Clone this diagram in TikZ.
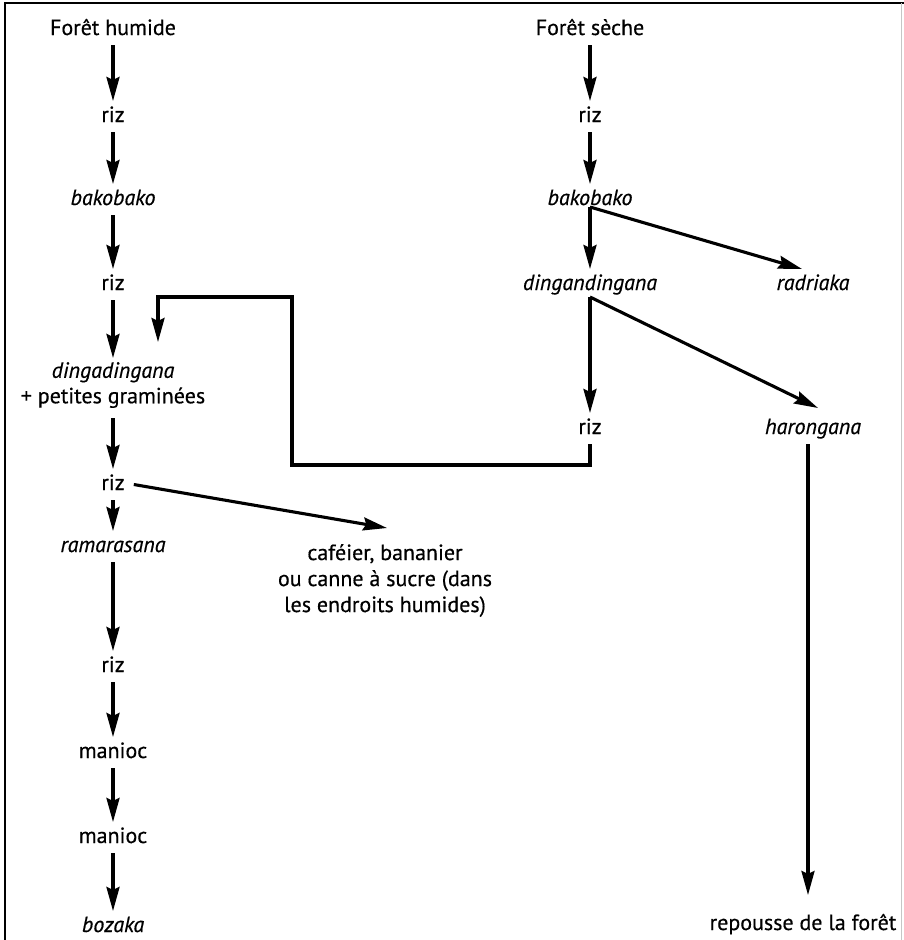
\documentclass[tikz,border=0pt]{standalone}
\usepackage{fontspec}
\setmainfont{PT Sans}[FakeBold=0.5]
\usetikzlibrary{arrows.meta,calc}
\begin{document}
\begin{tikzpicture}[x=1pt,y=-1pt,
  lbl/.style={anchor=base, inner xsep=5pt, inner ysep=0pt,
    text height=16pt, text depth=5pt, outer ysep=5pt,
    font=\fontsize{22}{26}\selectfont},
  itl/.style={lbl, font=\fontsize{22}{26}\selectfont\itshape},
  multi/.style={anchor=north, inner sep=0pt, align=center,
    font=\fontsize{22}{25.5}\selectfont},
  arr/.style={line width=3.1pt, line join=miter,
    -{Stealth[length=24pt,width=13pt,inset=3pt]}},
  rule/.style={line width=1.8pt},
]
\useasboundingbox (0,0) rectangle (904,940);

% page frame
\draw[rule] (5,940) -- (5,3) -- (904,3);
\draw[gray!45, line width=0.8pt] (901,3) -- (901,940);

% wet forest column
\node[lbl] (fh)  at (113,35)  {Forêt humide};
\node[lbl] (r1)  at (113,122) {riz};
\node[itl] (b1)  at (113,205) {bakobako};
\node[lbl] (r2)  at (113,290) {riz};
\node[multi] (dg) at (113,362) {\textit{dingadingana}\\+ petites graminées};
\node[lbl] (r3)  at (113,490) {riz};
\node[itl] (ra)  at (113,552) {ramarasana};
\node[lbl] (r4)  at (113,672) {riz};
\node[lbl] (m1)  at (113,758) {manioc};
\node[lbl] (m2)  at (113,843) {manioc};
\node[itl] (bz)  at (113,932) {bozaka};

\node[multi, font=\fontsize{22}{26}\selectfont] (cf) at (385,544)
  {caféier, bananier\\ou canne à sucre (dans\\les endroits humides)};

% dry forest column
\node[lbl] (fs)  at (590,35)  {Forêt sèche};
\node[lbl] (s1)  at (590,122) {riz};
\node[itl] (b2)  at (590,205) {bakobako};
\node[itl] (dd)  at (590,290) {dingandingana};
\node[itl] (rd)  at (813,290) {radriaka};
\node[lbl] (s2)  at (590,434) {riz};
\node[itl] (hg)  at (813,434) {harongana};
\node[lbl] (rp)  at (803,930) {repousse de la forêt};

% branch points and free ends
\coordinate (jb) at ([yshift=8pt]b2.south);
\coordinate (jd) at ([yshift=3pt]dd.south);
\coordinate (lx) at (292,465);
\coordinate (lt) at (158,297);
\coordinate (le) at (158,342);

% wet forest succession
\draw[arr] (fh) -- (r1);
\draw[arr] (r1) -- (b1);
\draw[arr] (b1) -- (r2);
\draw[arr] (r2) -- ([yshift=4pt]dg.north);
\draw[arr, shorten <=10pt] (dg) -- (r3);
\draw[arr] (r3) -- (ra);
\draw[arr] (ra) -- (r4);
\draw[arr] (r4) -- (m1);
\draw[arr] (m1) -- (m2);
\draw[arr] (m2) -- (bz);
\draw[arr] ([xshift=4pt]r3.east) -- ([xshift=2pt,yshift=16pt]cf.north);

% dry forest succession
\draw[arr] (fs) -- (s1);
\draw[arr] (s1) -- (b2);
\draw[arr] (jb) -- (dd);
\draw[arr] (jb) -- ([xshift=-11pt]rd.north);
\draw[arr] (jd) -- (s2);
\draw[arr] (jd) -- ([xshift=5pt,yshift=5pt]hg.north);
\draw[arr] ([xshift=-5pt]hg.south) -- ([xshift=-5pt,yshift=14pt]hg.south |- rp.north);

% return from dry-forest rice to the wet-forest sequence
\draw[arr] (s2.south) |- (lx) |- (lt) -- (le);
\end{tikzpicture}
\end{document}
